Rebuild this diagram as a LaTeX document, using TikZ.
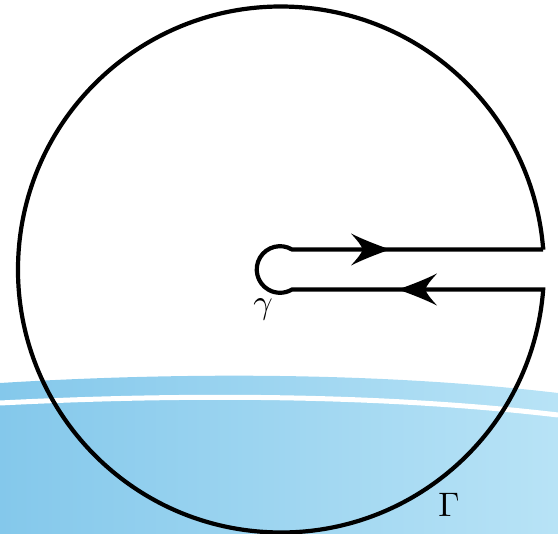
\documentclass[tikz,border=0pt]{standalone}
\usetikzlibrary{calc}
\definecolor{bandleft}{RGB}{132,200,235}
\definecolor{bandright}{RGB}{184,227,246}
\tikzset{
  contour/.style={draw=black, line width=4.2pt, line join=miter},
  arrowhead/.pic={\fill[black] (0,0) .. controls (-14,-5) and (-27,-10) .. (-39,-16)
      .. controls (-31,-7) .. (-27,0) .. controls (-31,7) .. (-39,16)
      .. controls (-27,10) and (-14,5) .. (0,0) -- cycle;},
  lbl/.style={inner sep=0pt, scale=3.4}
}
\begin{document}
\begin{tikzpicture}[x=1pt,y=-1pt]
\useasboundingbox (0,0) rectangle (558,534);
% background band
\shade[left color=bandleft, right color=bandright]
  (0,383) .. controls (180,372) and (380,372) .. (558,393) -- (558,534) -- (0,534) -- cycle;
\draw[white, line width=5pt] (0,403) .. controls (180,394) and (380,394) .. (558,415);
% keyhole contour
\coordinate (UR) at (543.2,249.5);
\coordinate (LR) at (543.2,289.5);
\coordinate (UL) at (292,249.5);
\draw[contour] (UR) -- (UL) arc[start angle=-59.1, end angle=-300.9, radius=23.3]
  -- (LR) arc[start angle=4.36, end angle=355.64, radius=263] -- cycle;
% arrowheads
\pic at (390,249.5) {arrowhead};
\pic[rotate=180] at (398,289.5) {arrowhead};
% labels
\node[lbl] (gammalabel) at (263,309) {$\gamma$};
\node[lbl] (Gammalabel) at (449,505) {$\Gamma$};
\end{tikzpicture}
\end{document}
